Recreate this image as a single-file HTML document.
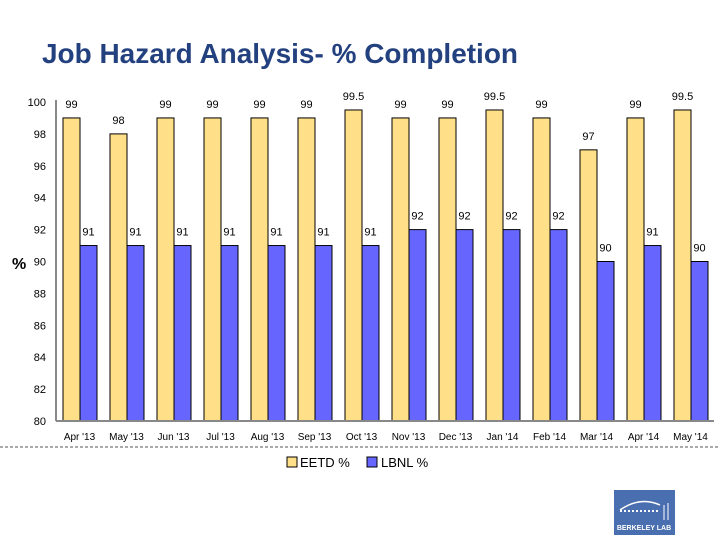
<!DOCTYPE html>
<html><head><meta charset="utf-8"><style>
body{margin:0;background:#fff;width:720px;height:540px;overflow:hidden;font-family:"Liberation Sans",sans-serif}
</style></head><body>
<svg width="720" height="540" xmlns="http://www.w3.org/2000/svg">
<text x="42" y="63" font-size="28" font-weight="bold" fill="#23407f" textLength="476" lengthAdjust="spacingAndGlyphs">Job Hazard Analysis- % Completion</text>
<g id="plot"></g>
<text x="12" y="269" font-size="16" font-weight="bold" fill="#000">%</text>
<line x1="0" y1="447" x2="720" y2="447" stroke="#555" stroke-dasharray="3,2"/>
<g>
<rect x="287" y="457" width="10" height="10" fill="#ffdf88" stroke="#000"/>
<text x="300" y="467" font-size="13">EETD %</text>
<rect x="367" y="457" width="10" height="10" fill="#6666ff" stroke="#000"/>
<text x="381" y="467" font-size="13">LBNL %</text>
</g>
<g>
<rect x="614" y="490" width="61" height="45" fill="#4a6fb0"/>
<path d="M620 510 Q640 496 660 505" stroke="#fff" fill="none" stroke-width="1.5"/>
<line x1="620" y1="511" x2="660" y2="511" stroke="#fff" stroke-dasharray="2,2" stroke-width="2"/>
<line x1="664" y1="505" x2="664" y2="520" stroke="#fff"/><line x1="668" y1="503" x2="668" y2="520" stroke="#fff"/>
<text x="644" y="530" font-size="7" font-weight="bold" fill="#fff" text-anchor="middle">BERKELEY LAB</text>
</g>
</svg>
<script>
const categories=["Apr '13","May '13","Jun '13","Jul '13","Aug '13","Sep '13","Oct '13","Nov '13","Dec '13","Jan '14","Feb '14","Mar '14","Apr '14","May '14"];
const eetd=[99,98,99,99,99,99,99.5,99,99,99.5,99,97,99,99.5];
const lbnl=[91,91,91,91,91,91,91,92,92,92,92,90,91,90];
const yTicks=[80,82,84,86,88,90,92,94,96,98,100];
const NS="http://www.w3.org/2000/svg";
const g=document.getElementById('plot');
const x0=56,step=47,bw=17,yTop=102,yBot=421,ymin=80,ymax=100;
const y=v=>yBot-(v-ymin)/(ymax-ymin)*(yBot-yTop);
function mk(tag,attrs,txt){const e=document.createElementNS(NS,tag);for(const k in attrs)e.setAttribute(k,attrs[k]);if(txt!=null)e.textContent=txt;g.appendChild(e);return e;}
yTicks.forEach(t=>{
  const e=mk('text',{x:46,y:y(t)+4,'font-size':11,'text-anchor':'end'},t);
  
  
});
categories.forEach((c,i)=>{
  const gx=x0+step*i+7;
  const r1=mk('rect',{x:gx,y:y(eetd[i]),width:bw,height:yBot-y(eetd[i]),fill:'#ffdf88',stroke:'#000','stroke-width':1});
  
  
  const r2=mk('rect',{x:gx+bw,y:y(lbnl[i]),width:bw,height:yBot-y(lbnl[i]),fill:'#6666ff',stroke:'#000','stroke-width':1});
  
  
  const l1=mk('text',{x:gx+bw/2,y:y(eetd[i])-10,'font-size':11,'text-anchor':'middle'},eetd[i]);
  
  
  const l2=mk('text',{x:gx+bw*1.5,y:y(lbnl[i])-10,'font-size':11,'text-anchor':'middle'},lbnl[i]);
  
  
  const xl=mk('text',{x:x0+step*(i+0.5),y:440,'font-size':10,'text-anchor':'middle'},c);
  
  
});
const ya=mk('line',{x1:x0,y1:yTop-2,x2:x0,y2:yBot,stroke:'#888','stroke-width':2});


const xa=mk('line',{x1:x0,y1:yBot,x2:x0+step*categories.length,y2:yBot,stroke:'#888','stroke-width':2});


</script>
</body></html>
